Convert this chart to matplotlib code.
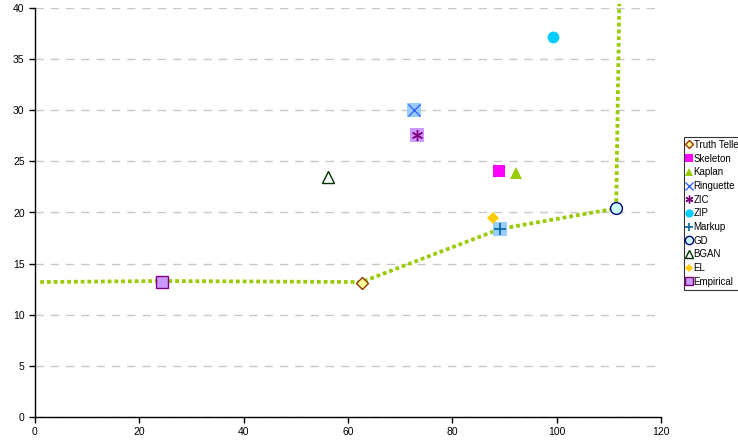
import matplotlib
matplotlib.use("Agg")
import matplotlib.pyplot as plt

plt.rcParams['font.family'] = ['Liberation Sans', 'DejaVu Sans']

# strategy points (x, y)
names = ["Truth Teller", "Skeleton", "Kaplan", "Ringuette", "ZIC", "ZIP",
         "Markup", "GD", "BGAN", "EL", "Empirical"]
xs = [62.6, 89.0, 92.3, 72.7, 73.3, 99.3, 89.2, 111.4, 56.1, 87.7, 24.3]
ys = [13.1, 24.1, 23.9, 30.0, 27.6, 37.2, 18.4, 20.4, 23.5, 19.5, 13.2]

# efficient frontier line
frontier_x = [1, 24.3, 62.6, 89.2, 111.4, 112.0]
frontier_y = [13.2, 13.3, 13.2, 18.4, 20.4, 40.4]

styles = {
    "Truth Teller": dict(marker="D", ms=6.5, mfc="#FFFF99", mec="#993300", mew=1),
    "Skeleton": dict(marker="s", ms=8.5, mfc="#FF00FF", mec="#FF00FF", mew=0),
    "Kaplan": dict(marker="^", ms=9, mfc="#99CC00", mec="#99CC00", mew=0),
    "Ringuette": dict(marker="x", ms=8, mfc="#3366FF", mec="#3366FF", mew=1),
    "ZIC": dict(marker=(6, 2, 0), ms=8, mfc="#800080", mec="#800080", mew=1),
    "ZIP": dict(marker="o", ms=8.5, mfc="#00CCFF", mec="#00CCFF", mew=0),
    "Markup": dict(marker="+", ms=9, mfc="#006699", mec="#006699", mew=1.2),
    "GD": dict(marker="o", ms=8.5, mfc="#CCFFFF", mec="#000080", mew=1),
    "BGAN": dict(marker="^", ms=8.5, mfc="white", mec="#003300", mew=1),
    "EL": dict(marker="D", ms=6.5, mfc="#FFCC00", mec="#FFCC00", mew=0),
    "Empirical": dict(marker="s", ms=9, mfc="#CC99FF", mec="#800080", mew=1),
}
# squares drawn behind some markers
backs = {"Ringuette": "#99CCFF", "ZIC": "#CC99FF", "Markup": "#99CCFF"}

fig = plt.figure(figsize=(7.38, 4.4), dpi=100)
ax = fig.add_axes([35/738, 1-417/440, (661-35)/738, (417-8)/440])

ax.plot(frontier_x, frontier_y, linestyle=(0, (1, 0.8)), color="#99CC00",
        lw=2.7, zorder=2, clip_on=False)

for n, x, y in zip(names, xs, ys):
    if n in backs:
        ax.plot(x, y, marker="s", ms=10, mfc=backs[n], mec=backs[n], mew=0,
                linestyle="none", zorder=3)
    ax.plot(x, y, linestyle="none", label=n, zorder=4, **styles[n])

ax.set_xlim(0, 120)
ax.set_ylim(0, 40)
ax.set_xticks(range(0, 121, 20))
ax.set_yticks(range(0, 41, 5))
ax.yaxis.grid(True, linestyle=(0, (6, 5)), color="#C8C8C8", lw=1)
ax.set_axisbelow(True)
for s in ["top", "right"]:
    ax.spines[s].set_visible(False)
ax.spines["left"].set_linewidth(1)
ax.spines["bottom"].set_linewidth(1)
ax.tick_params(labelsize=7.5, length=4, width=1, direction="out")

handles, labels = ax.get_legend_handles_labels()
leg = fig.legend(handles, labels, loc="upper left",
                 bbox_to_anchor=(683/738, 1-136/440), fontsize=7,
                 frameon=True, fancybox=False, handlelength=0.5,
                 handletextpad=0.2, borderpad=0.3, borderaxespad=0.1,
                 labelspacing=0.38, markerscale=0.7)
leg.get_frame().set_edgecolor("black")
leg.get_frame().set_linewidth(0.8)

fig.savefig("out.png", dpi=100)
